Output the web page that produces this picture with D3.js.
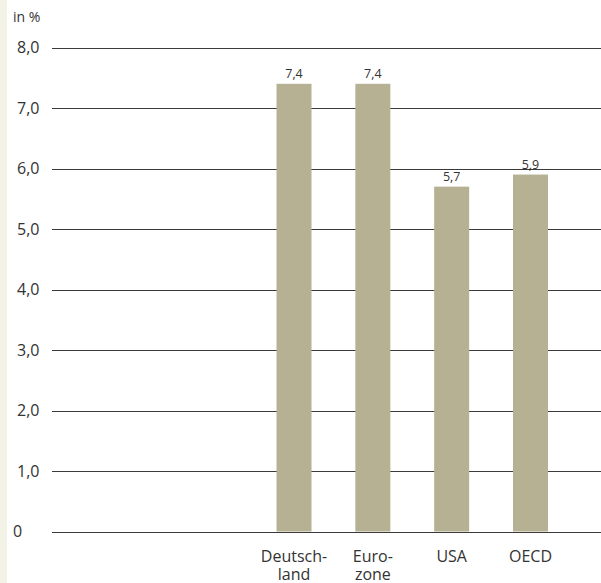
<!DOCTYPE html>
<html>
<head>
<meta charset="utf-8">
<script src="https://cdn.jsdelivr.net/npm/d3@7"></script>
<style>
  body { margin: 0; background: #fff; }
  svg { display: block; }
  text { font-family: "Open Sans", sans-serif; fill: #333; }
</style>
</head>
<body>
<script>
var w = 601;
var h = 583;

var categories = ["Deutschland", "Eurozone", "USA", "OECD"];
var labelLines = [["Deutsch-", "land"], ["Euro-", "zone"], ["USA"], ["OECD"]];
var values = [7.4, 7.4, 5.7, 5.9];
var valueLabels = ["7,4", "7,4", "5,7", "5,9"];
var ticks = [0, 1, 2, 3, 4, 5, 6, 7, 8];
var tickLabels = ["0", "1,0", "2,0", "3,0", "4,0", "5,0", "6,0", "7,0", "8,0"];

var svg = d3.select("body")
    .append("svg")
    .attr("width", w)
    .attr("height", h);

// light strip on the left edge
svg.append("rect")
    .attr("x", 0)
    .attr("y", 0)
    .attr("width", 7)
    .attr("height", h)
    .attr("fill", "#f3f2e7");

var yScale = d3.scaleLinear()
    .domain([0, 8])
    .range([531.5, 47.5]);

var xScale = d3.scaleBand()
    .domain(categories)
    .range([254.6, 569.9])
    .paddingInner(0.556)
    .paddingOuter(0.278);

// grid lines
svg.selectAll("line.grid")
    .data(ticks)
    .enter()
    .append("line")
    .attr("class", "grid")
    .attr("x1", 52)
    .attr("x2", w)
    .attr("y1", function (d) { return Math.round(yScale(d)) + 0.5; })
    .attr("y2", function (d) { return Math.round(yScale(d)) + 0.5; })
    .attr("stroke", "#3a3a3a")
    .attr("stroke-width", 1);

// tick labels
svg.selectAll("text.tick")
    .data(ticks)
    .enter()
    .append("text")
    .attr("class", "tick")
    .attr("x", function (d) { return d === 0 ? 13 : 17; })
    .attr("y", function (d) { return yScale(d) + 5.5; })
    .attr("font-size", 16)
    .text(function (d, i) { return tickLabels[i]; });

svg.append("text")
    .attr("x", 13)
    .attr("y", 22)
    .attr("font-size", 14)
    .text("in %");

// bars
svg.selectAll("rect.bar")
    .data(values)
    .enter()
    .append("rect")
    .attr("class", "bar")
    .attr("x", function (d, i) { return xScale(categories[i]); })
    .attr("y", function (d) { return yScale(d); })
    .attr("width", xScale.bandwidth())
    .attr("height", function (d) { return yScale(0) - yScale(d); })
    .attr("fill", "#b5b192");

// value labels
svg.selectAll("text.value")
    .data(values)
    .enter()
    .append("text")
    .attr("class", "value")
    .attr("x", function (d, i) { return xScale(categories[i]) + xScale.bandwidth() / 2; })
    .attr("y", function (d) { return yScale(d) - 6; })
    .attr("text-anchor", "middle")
    .attr("font-size", 12.5)
    .text(function (d, i) { return valueLabels[i]; });

// category labels
var cats = svg.selectAll("text.cat")
    .data(labelLines)
    .enter()
    .append("text")
    .attr("class", "cat")
    .attr("text-anchor", "middle")
    .attr("font-size", 16)
    .attr("transform", function (d, i) {
        return "translate(" + (xScale(categories[i]) + xScale.bandwidth() / 2) + ",562)";
    });

cats.selectAll("tspan")
    .data(function (d) { return d; })
    .enter()
    .append("tspan")
    .attr("x", 0)
    .attr("y", function (d, i) { return i * 18; })
    .text(function (d) { return d; });
</script>
</body>
</html>
